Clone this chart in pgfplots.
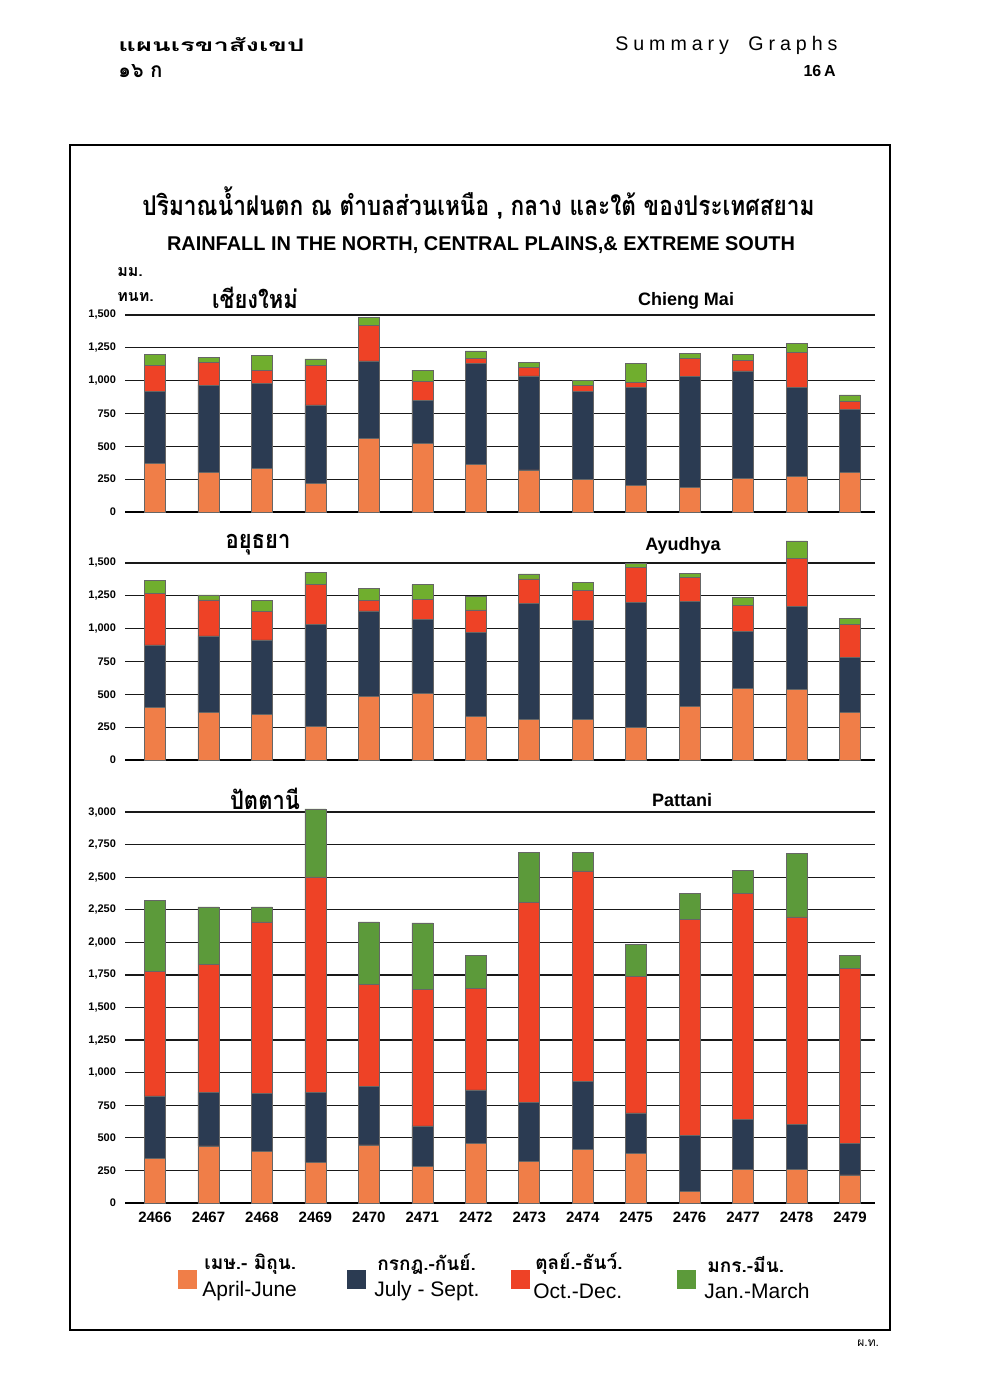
\documentclass[border=0pt]{standalone}
\usepackage{fontspec}
\usepackage{pgfplots}
\usepackage{pgfplotstable}
\pgfplotsset{compat=1.18}
\setmainfont{Liberation Sans}
\newfontfamily\thai[Script=Thai]{Loma}
\definecolor{cOr}{HTML}{F07E48}
\definecolor{cNv}{HTML}{2B3B52}
\definecolor{cRd}{HTML}{EE4226}
\definecolor{cGr}{HTML}{5C9A3A}

\pgfplotstableread{
x o n r g
0 370 551 193 89
1 300 667 173 38
2 332 648 101 114
3 218 597 304 46
4 561 589 269 63
5 523 325 149 84
6 363 769 38 56
7 320 716 65 41
8 251 670 41 38
9 203 744 40 145
10 185 845 140 38
11 256 818 78 48
12 269 678 269 68
13 300 484 56 51
}\chiengmai
\pgfplotstableread{
x o n r g
0 399 478 394 97
1 361 585 274 38
2 348 567 216 87
3 254 776 310 91
4 483 653 79 94
5 508 565 152 110
6 330 644 170 102
7 307 886 187 38
8 307 758 225 64
9 248 953 268 26
10 409 799 184 31
11 544 434 197 64
12 537 631 370 130
13 363 421 251 43
}\ayudhya
\pgfplotstableread{
x o n r g
0 345 477 958 543
1 439 411 980 442
2 396 447 1314 115
3 311 539 1652 523
4 447 447 786 477
5 281 311 1050 508
6 460 408 779 255
7 319 452 1533 386
8 411 524 1613 142
9 378 313 1048 244
10 90 429 1657 198
11 257 385 1732 180
12 257 347 1592 486
13 216 239 1348 95
}\pattani

\pgfplotsset{
  rainax/.style={
    scale only axis, width=375pt, anchor=south west,
    xmin=-0.561, xmax=13.468, ymin=0,
    ybar stacked, bar width=10.5pt,
    clip=false,
    axis line style={draw=none},
    major tick length=0pt,
    ymajorgrids, grid style={black!90, line width=0.6pt},
    xtick={0,...,13},
    yticklabel style={font=\fontsize{5.5}{6}\selectfont\bfseries, xshift=-1pt},
    xticklabel style={font=\fontsize{7.5}{8}\selectfont\bfseries, yshift=-1pt},
  },
  segs/.style={draw=black!60, line width=0.25pt},
}

\begin{document}
\begin{tikzpicture}
\begin{scope}[x=0.5pt,y=-0.5pt]
\path (0,0) rectangle (990,1385);
% header
\node[anchor=west, inner sep=0pt] at (118,45) {\resizebox{93pt}{7pt}{\thai\bfseries แผนเรขาสังเขป}};
\node[anchor=west, inner sep=0pt] at (118,71) {\resizebox{22pt}{6.5pt}{\thai\bfseries ๑๖ ก}};
\node[anchor=west, inner sep=0pt] at (615,45) {\resizebox{111pt}{!}{\addfontfeatures{LetterSpace=25}Summary\quad Graphs}};
\node[anchor=east, inner sep=0pt] at (836,71) {\fontsize{8}{9}\selectfont\bfseries 16\,A};
% frame
\draw[line width=1.25pt] (70,145) rectangle (890,1330);
% titles
\node[inner sep=0pt] at (478.5,203) {\resizebox{336pt}{!}{\scalebox{1}[1.2]{\thai\bfseries ปริมาณน้ำฝนตก ณ ตำบลส่วนเหนือ , กลาง และใต้ ของประเทศสยาม}}};
\node[inner sep=0pt] at (481,245) {\resizebox{314pt}{!}{\bfseries RAINFALL IN THE NORTH, CENTRAL PLAINS,\& EXTREME SOUTH}};
% y units
\node[anchor=west, inner sep=0pt] at (117,272) {\fontsize{8}{9}\selectfont\thai\bfseries มม.};
\node[anchor=west, inner sep=0pt] at (117,297) {\fontsize{8}{9}\selectfont\thai\bfseries ทนท.};
% station names
\node[inner sep=0pt] at (255,298) {\scalebox{1}[1.15]{\fontsize{11}{12}\selectfont\thai\bfseries เชียงใหม่}};
\node[inner sep=0pt] at (686,301) {\fontsize{9}{10}\selectfont\bfseries Chieng Mai};
\node[inner sep=0pt] at (258,545) {\scalebox{1}[1.15]{\fontsize{11}{12}\selectfont\thai\bfseries อยุธยา}};
\node[inner sep=0pt] at (683,546) {\fontsize{9}{10}\selectfont\bfseries Ayudhya};
\node[inner sep=0pt] at (265,799) {\scalebox{1}[1.15]{\fontsize{11}{12}\selectfont\thai\bfseries ปัตตานี}};
\node[inner sep=0pt] at (682,800) {\fontsize{9}{10}\selectfont\bfseries Pattani};
% legend
\fill[cOr] (178,1270) rectangle (197,1289);
\fill[cNv] (347,1270) rectangle (366,1289);
\fill[cRd] (511,1270) rectangle (530,1289);
\fill[cGr] (677,1270) rectangle (696,1289);
\node[anchor=west, inner sep=0pt] at (204,1264) {\fontsize{9.5}{10}\selectfont\thai\bfseries เมษ.- มิถุน.};
\node[anchor=west, inner sep=0pt] at (202,1291) {\fontsize{10.5}{11}\selectfont April-June};
\node[anchor=west, inner sep=0pt] at (377,1264) {\fontsize{9.5}{10}\selectfont\thai\bfseries กรกฎ.-กันย์.};
\node[anchor=west, inner sep=0pt] at (374,1291) {\fontsize{10.5}{11}\selectfont July - Sept.};
\node[anchor=west, inner sep=0pt] at (535,1264) {\fontsize{9.5}{10}\selectfont\thai\bfseries ตุลย์.-ธันว์.};
\node[anchor=west, inner sep=0pt] at (533,1291) {\fontsize{10.5}{11}\selectfont Oct.-Dec.};
\node[anchor=west, inner sep=0pt] at (707,1264) {\fontsize{9.5}{10}\selectfont\thai\bfseries มกร.-มีน.};
\node[anchor=west, inner sep=0pt] at (704,1291) {\fontsize{10.5}{11}\selectfont Jan.-March};
\node[anchor=west, inner sep=0pt] at (857,1343) {\fontsize{6}{7}\selectfont\thai ผ.ท.};
\end{scope}

% Chieng Mai
\begin{axis}[rainax, at={(62.5pt,-256pt)}, height=98.5pt, ymax=1500,
  ytick={0,250,...,1500}, yticklabels={0,250,500,750,{1,000},{1,250},{1,500}},
  xticklabels={}]
\addplot[segs, fill=cOr] table[x=x,y=o]{\chiengmai};
\addplot[segs, fill=cNv] table[x=x,y=n]{\chiengmai};
\addplot[segs, fill=cRd] table[x=x,y=r]{\chiengmai};
\addplot[segs, fill=cGr!80!lime] table[x=x,y=g]{\chiengmai};
\draw[line width=1.4pt] (rel axis cs:0,0) -- (rel axis cs:1,0);
\end{axis}

% Ayudhya
\begin{axis}[rainax, at={(62.5pt,-380pt)}, height=98.5pt, ymax=1500,
  ytick={0,250,...,1500}, yticklabels={0,250,500,750,{1,000},{1,250},{1,500}},
  xticklabels={}]
\addplot[segs, fill=cOr] table[x=x,y=o]{\ayudhya};
\addplot[segs, fill=cNv] table[x=x,y=n]{\ayudhya};
\addplot[segs, fill=cRd] table[x=x,y=r]{\ayudhya};
\addplot[segs, fill=cGr!80!lime] table[x=x,y=g]{\ayudhya};
\draw[line width=1.4pt] (rel axis cs:0,0) -- (rel axis cs:1,0);
\end{axis}

% Pattani
\begin{axis}[rainax, at={(62.5pt,-601.5pt)}, height=195.5pt, ymax=3000,
  ytick={0,250,...,3000},
  yticklabels={0,250,500,750,{1,000},{1,250},{1,500},{1,750},{2,000},{2,250},{2,500},{2,750},{3,000}},
  xticklabels={2466,2467,2468,2469,2470,2471,2472,2473,2474,2475,2476,2477,2478,2479}]
\addplot[segs, fill=cOr] table[x=x,y=o]{\pattani};
\addplot[segs, fill=cNv] table[x=x,y=n]{\pattani};
\addplot[segs, fill=cRd] table[x=x,y=r]{\pattani};
\addplot[segs, fill=cGr] table[x=x,y=g]{\pattani};
\draw[line width=1.4pt] (rel axis cs:0,0) -- (rel axis cs:1,0);
\end{axis}
\end{tikzpicture}
\end{document}
